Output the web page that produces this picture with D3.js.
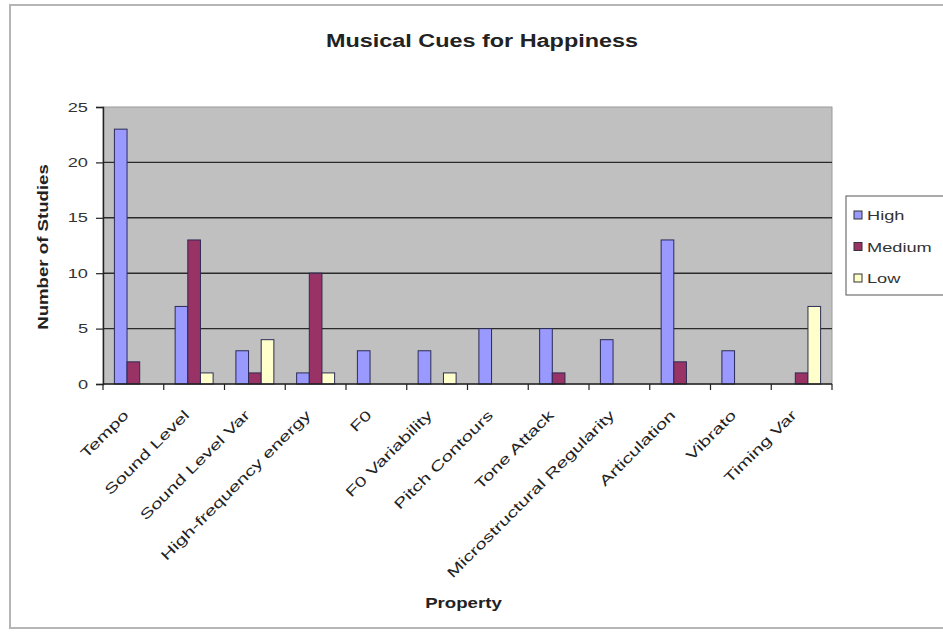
<!DOCTYPE html>
<html>
<head>
<meta charset="utf-8">
<script src="https://cdn.jsdelivr.net/npm/d3@7"></script>
<style>
  html, body { margin: 0; padding: 0; background: #fff; }
  svg { display: block; font-family: Arial, "Liberation Sans", sans-serif; }
</style>
</head>
<body>
<svg id="chart" width="943" height="636"></svg>
<script>
const categories = ["Tempo", "Sound Level", "Sound Level Var", "High-frequency energy", "F0",
  "F0 Variability", "Pitch Contours", "Tone Attack", "Microstructural Regularity",
  "Articulation", "Vibrato", "Timing Var"];
const seriesNames = ["High", "Medium", "Low"];
const highValues   = [23, 7, 3, 1, 3, 3, 5, 5, 4, 13, 3, 0];
const mediumValues = [2, 13, 1, 10, 0, 0, 0, 1, 0, 2, 0, 1];
const lowValues    = [0, 1, 4, 1, 0, 1, 0, 0, 0, 0, 0, 7];
const yTicks = [0, 5, 10, 15, 20, 25];
const colors = ["#9999FF", "#993366", "#FFFFCC"];

const series = [highValues, mediumValues, lowValues];
const K = 1.33; // text stretch to mimic the wide reference rendering

const svg = d3.select("#chart");
const pLeft = 103, pRight = 832, pTop = 107, pBottom = 384;

function stretch(sel, k) {
  sel.each(function () {
    const len = this.getComputedTextLength();
    d3.select(this).attr("textLength", len * k).attr("lengthAdjust", "spacingAndGlyphs");
  });
}

// chart area border
svg.append("rect").attr("x", 10).attr("y", 5).attr("width", 1000).attr("height", 623)
  .attr("fill", "#fff").attr("stroke", "#b5b5b5").attr("stroke-width", 2);

const x0 = d3.scaleBand().domain(categories).range([pLeft, pRight]).paddingInner(0).paddingOuter(0);
const innerPad = 0.375;
const x1 = d3.scaleBand().domain(seriesNames)
  .range([x0.bandwidth() * innerPad / 2, x0.bandwidth() * (1 - innerPad / 2)]);
const y = d3.scaleLinear().domain([0, 25]).range([pBottom, pTop]);

// plot area
svg.append("rect").attr("x", pLeft).attr("y", pTop).attr("width", pRight - pLeft).attr("height", pBottom - pTop)
  .attr("fill", "#C0C0C0").attr("stroke", "#9a9a9a").attr("stroke-width", 1);

// gridlines
svg.append("g").selectAll("line").data(yTicks.filter(d => d > 0 && d < 25)).join("line")
  .attr("x1", pLeft).attr("x2", pRight)
  .attr("y1", d => y(d)).attr("y2", d => y(d))
  .attr("stroke", "#2a2a2a").attr("stroke-width", 1.4);

// bars
const groups = svg.append("g").selectAll("g").data(categories).join("g")
  .attr("transform", d => `translate(${x0(d)},0)`);
groups.selectAll("rect").data((c, i) => seriesNames.map((s, j) => ({ s, v: series[j][i], j })).filter(d => d.v > 0))
  .join("rect")
  .attr("x", d => x1(d.s))
  .attr("width", x1.bandwidth())
  .attr("y", d => y(d.v))
  .attr("height", d => y(0) - y(d.v))
  .attr("fill", d => colors[d.j])
  .attr("stroke", "#2b2b55").attr("stroke-width", 1);

// y axis
const yAxis = svg.append("g").attr("transform", `translate(${pLeft},0)`)
  .call(d3.axisLeft(y).tickValues(yTicks).tickSize(7).tickPadding(8));
yAxis.select(".domain").attr("stroke", "#222").attr("stroke-width", 1.4);
yAxis.selectAll(".tick line").attr("stroke", "#222").attr("stroke-width", 1.2);
yAxis.selectAll("text").attr("font-size", 13).attr("fill", "#333").attr("font-family", "Arial, 'Liberation Sans', sans-serif");
stretch(yAxis.selectAll("text"), 1.4);

// x axis with ticks at category boundaries
const xAxisG = svg.append("g").attr("transform", `translate(0,${pBottom})`);
xAxisG.append("line").attr("x1", pLeft).attr("x2", pRight).attr("stroke", "#222").attr("stroke-width", 1.4);
const boundaries = categories.map(c => x0(c)).concat([x0(categories[categories.length - 1]) + x0.bandwidth()]);
xAxisG.selectAll("line.tk").data(boundaries).join("line").attr("class", "tk")
  .attr("x1", d => d).attr("x2", d => d).attr("y1", 0).attr("y2", 6)
  .attr("stroke", "#222").attr("stroke-width", 1.2);
const xl = xAxisG.selectAll("text").data(categories).join("text")
  .attr("transform", d => `translate(${x0(d) + x0.bandwidth() / 2 - 4},${32}) rotate(-45)`)
  .attr("text-anchor", "end")
  .attr("font-size", 14).attr("fill", "#222")
  .text(d => d);
stretch(xl, 1.45);

// titles
const t = svg.append("text").attr("x", 482).attr("y", 47).attr("text-anchor", "middle")
  .attr("font-size", 18).attr("font-weight", "bold").attr("fill", "#222")
  .text("Musical Cues for Happiness");
stretch(t, 1.3);
const xt = svg.append("text").attr("x", (pLeft + pRight) / 2 - 4).attr("y", 608).attr("text-anchor", "middle")
  .attr("font-size", 14).attr("font-weight", "bold").attr("fill", "#222").text("Property");
stretch(xt, K);
const yt = svg.append("text").attr("transform", `translate(48,${247}) rotate(-90)`).attr("text-anchor", "middle")
  .attr("font-size", 14).attr("font-weight", "bold").attr("fill", "#222").text("Number of Studies");
stretch(yt, K);

// legend
const lg = svg.append("g");
lg.append("rect").attr("x", 846).attr("y", 196).attr("width", 110).attr("height", 99)
  .attr("fill", "#fff").attr("stroke", "#555").attr("stroke-width", 1);
const items = lg.selectAll("g").data(seriesNames).join("g")
  .attr("transform", (d, i) => `translate(854,${215 + i * 31.5})`);
items.append("rect").attr("x", 0).attr("y", -4).attr("width", 8).attr("height", 8)
  .attr("fill", (d, i) => colors[i]).attr("stroke", "#333").attr("stroke-width", 1);
const lt = items.append("text").attr("x", 13).attr("y", 5).attr("font-size", 13).attr("fill", "#333").text(d => d);
stretch(lt, 1.4);
</script>
</body>
</html>
